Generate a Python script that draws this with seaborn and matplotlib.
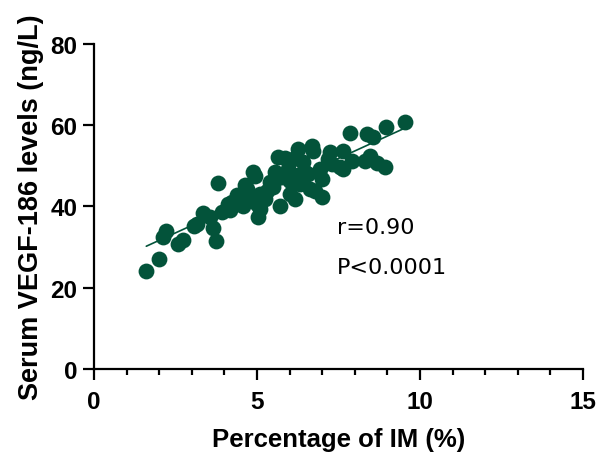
import matplotlib
matplotlib.use("Agg")
import matplotlib.pyplot as plt
import seaborn as sns
import pandas as pd
from matplotlib.ticker import MultipleLocator

im_pct = [1.60, 1.99, 2.12, 2.21, 2.58, 2.73, 3.07, 3.16, 3.34, 3.56, 3.65, 3.74,
          3.80, 3.93, 4.17, 4.23, 4.11, 4.39, 4.57, 4.63, 4.69, 4.88, 4.94, 5.00,
          5.03, 5.09, 5.25, 5.31, 5.49, 5.55, 5.64, 5.71, 5.77, 5.95, 6.01, 6.10,
          6.17, 6.26, 6.32, 6.41, 6.47, 6.56, 6.63, 6.69, 6.72, 6.78, 6.93, 6.99,
          6.99, 7.18, 7.24, 7.30, 7.55, 7.64, 7.64, 7.85, 7.91, 8.31, 8.37, 8.47,
          8.56, 8.68, 8.93, 8.96, 9.54, 5.86, 5.40, 5.09, 4.79, 4.48, 6.26, 6.01]
vegf = [24.1, 27.1, 32.5, 34.0, 30.8, 31.8, 35.2, 35.7, 38.4, 37.4, 34.7, 31.5,
        45.8, 38.7, 39.2, 41.1, 40.6, 42.9, 40.1, 45.3, 44.3, 48.5, 47.5, 40.6,
        37.4, 39.4, 41.9, 43.8, 44.8, 48.5, 52.2, 40.1, 47.3, 49.3, 46.3, 51.7,
        41.9, 54.2, 45.6, 51.0, 48.5, 48.0, 44.3, 54.9, 53.7, 43.8, 49.3, 46.8,
        42.4, 51.7, 53.4, 50.5, 49.8, 53.7, 49.3, 58.1, 51.2, 51.2, 57.9, 52.5,
        57.1, 50.7, 49.8, 59.6, 60.8, 52.0, 46.1, 43.1, 42.4, 41.9, 47.8, 43.1]

x_ticks = [0, 5, 10, 15]
y_ticks = [0, 20, 40, 60, 80]
stats_text = ["r=0.90", "P<0.0001"]

df = pd.DataFrame({"x": im_pct, "y": vegf})

sns.set_style("ticks")
plt.rcParams["font.family"] = ["Liberation Sans", "DejaVu Sans"]
plt.rcParams["text.color"] = "black"
plt.rcParams["axes.labelcolor"] = "black"
plt.rcParams["xtick.color"] = "black"
plt.rcParams["ytick.color"] = "black"

color = "#03533a"
fig = plt.figure(figsize=(5.96, 4.56), dpi=100)
ax = fig.add_axes([0.158, 0.189, 0.82, 0.712])

sns.regplot(data=df, x="x", y="y", ax=ax, ci=None, color=color,
            scatter_kws=dict(s=130, alpha=1, linewidths=0),
            line_kws=dict(lw=1.2))

ax.set_xlim(0, 15)
ax.set_ylim(0, 80)
ax.set_xticks(x_ticks)
ax.set_yticks(y_ticks)
ax.xaxis.set_minor_locator(MultipleLocator(1))
for s in ["top", "right"]:
    ax.spines[s].set_visible(False)
for s in ["left", "bottom"]:
    ax.spines[s].set_linewidth(1.6)
    ax.spines[s].set_color("black")
ax.tick_params(axis="both", which="major", length=8, width=1.6, labelsize=17.5)
ax.tick_params(axis="x", which="major", pad=7)
ax.tick_params(axis="y", which="major", pad=4)
ax.tick_params(axis="x", which="minor", length=4.5, width=1.6)
for lab in ax.get_xticklabels() + ax.get_yticklabels():
    lab.set_fontweight("bold")

ax.set_xlabel("Percentage of IM (%)", fontsize=18.5, fontweight="bold", labelpad=10)
ax.set_ylabel("Serum VEGF-186 levels (ng/L)", fontsize=19.5, fontweight="bold", labelpad=5)

ax.text(7.45, 35.0, stats_text[0], fontsize=16, family=["DejaVu Sans"], va="center")
ax.text(7.45, 25.1, stats_text[1], fontsize=16, family=["DejaVu Sans"], va="center")

for sp in ax.spines.values():
    sp.set_clip_on(False)

fig.savefig("out.png", dpi=100)
